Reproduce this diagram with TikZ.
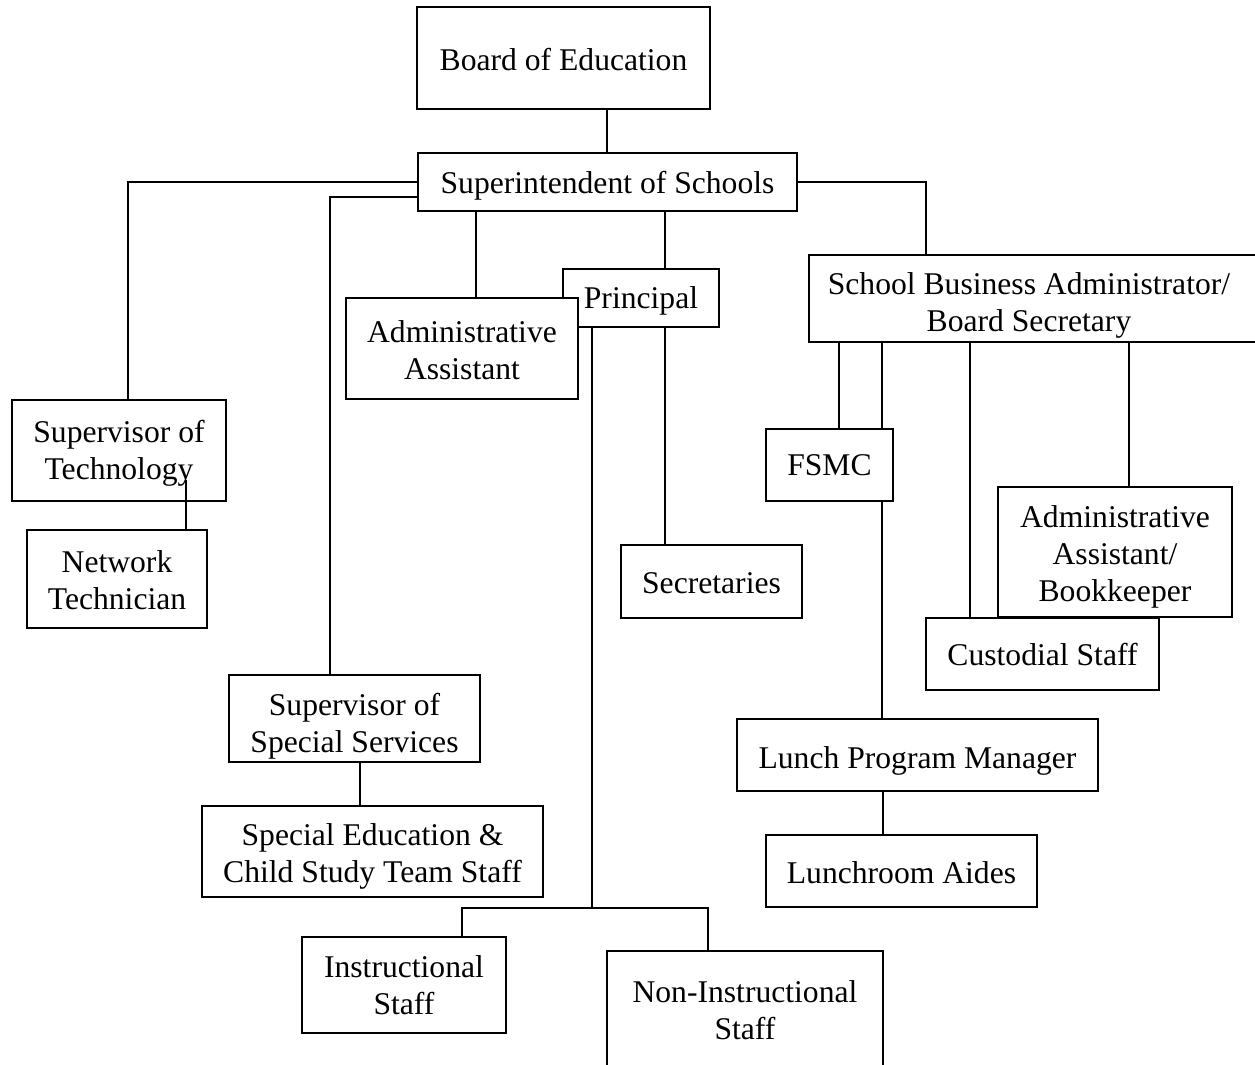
\documentclass[tikz,border=0pt]{standalone}
\usepackage{fontspec}
\setmainfont{Liberation Serif}
\usetikzlibrary{backgrounds}
\newcommand{\boxstrut}[1]{\rule{0pt}{#1}}

\begin{document}
\begin{tikzpicture}[x=0.02cm, y=-0.02cm, line width=1.1pt,
				   every node/.style={rectangle, draw=black, fill=white, inner sep=0pt, align=center, font=\fontsize{18}{21}\selectfont},
				   boxsize/.style 2 args={minimum width=#1*0.02cm, minimum height=#2*0.02cm}]
\useasboundingbox (0,0) rectangle (1255,1065);
\node[boxsize={293}{102}] (board) at (563.5,58) {\boxstrut{14.6pt}Board of Education};
\node[boxsize={379}{58}] (supt) at (607.5,182) {\boxstrut{16.9pt}Superintendent of Schools};
\node[boxsize={156}{58}] (principal) at (641,298) {\boxstrut{15.7pt}Principal};
\node[boxsize={232}{101}] (admin) at (462,348.5) {\boxstrut{14.6pt}Administrative\\Assistant};
\node[boxsize={214}{101}] (suptech) at (119,450.5) {\boxstrut{15.7pt}Supervisor of\\Technology};
\node[boxsize={180}{98}] (nettech) at (117,579) {\boxstrut{13.4pt}Network\\Technician};
\node[boxsize={181}{73}] (secretaries) at (711.5,581.5) {\boxstrut{13.6pt}Secretaries};
\node[boxsize={453}{87}] (sba) at (1035.5,298.5) {\boxstrut{20.3pt}School Business Administrator/\hspace*{7.4pt}\\Board Secretary\hspace*{7.4pt}};
\node[boxsize={127}{72}] (fsmc) at (829.5,465) {\boxstrut{12.4pt}FSMC};
\node[boxsize={234}{130}] (bookkeeper) at (1115,552) {\boxstrut{18.3pt}Administrative\\Assistant/\\Bookkeeper};
\node[boxsize={233}{72}] (custodial) at (1042.5,654) {\boxstrut{13.6pt}Custodial Staff};
\node[boxsize={361}{72}] (lunchmgr) at (917.5,755) {\boxstrut{19.1pt}Lunch Program Manager};
\node[boxsize={271}{72}] (aides) at (901.5,871) {\boxstrut{14.6pt}Lunchroom Aides};
\node[boxsize={251}{87}] (specsup) at (354.5,718.5) {\boxstrut{21.9pt}Supervisor of\\Special Services};
\node[boxsize={341}{91}] (speced) at (372.5,851.5) {\boxstrut{18.3pt}Special Education \&\\Child Study Team Staff};
\node[boxsize={204}{96}] (instr) at (404,985) {Instructional\\Staff};
\node[boxsize={276}{118}] (noninstr) at (745,1010) {Non-Instructional\\Staff};
\coordinate (techtap) at (186,480);
\coordinate (staffbus) at (592,908);
\draw (techtap) -- (186,0 |- nettech.north);
\begin{scope}[on background layer]
\begin{scope}[line width=1.1pt]
	\draw (607,0 |- supt.north) -- (607,0 |- board.south);
	\draw (supt.west) -| (128,0 |- suptech.north);
	\draw (supt.west |- 0,197) -| (330,0 |- specsup.north);
	\draw (476,0 |- supt.south) -- (476,0 |- admin.north);
	\draw (665,0 |- supt.south) -- (665,0 |- principal.north);
	\draw (665,0 |- principal.south) -- (665,0 |- secretaries.north);
	\draw (592,0 |- principal.south) -- (staffbus);
	\draw (462,0 |- instr.north) |- (staffbus) -| (708,0 |- noninstr.north);
	\draw (supt.east) -| (926,0 |- sba.north);
	\draw (839,0 |- sba.south) -- (839,0 |- fsmc.north);
	\draw (882,0 |- sba.south) -- (882,0 |- lunchmgr.north);
	\draw (970,0 |- sba.south) -- (970,0 |- custodial.north);
	\draw (1129,0 |- sba.south) -- (1129,0 |- bookkeeper.north);
	\draw (360,0 |- specsup.south) -- (360,0 |- speced.north);
	\draw (883,0 |- lunchmgr.south) -- (883,0 |- aides.north);
\end{scope}
\end{scope}
\end{tikzpicture}
\end{document}
